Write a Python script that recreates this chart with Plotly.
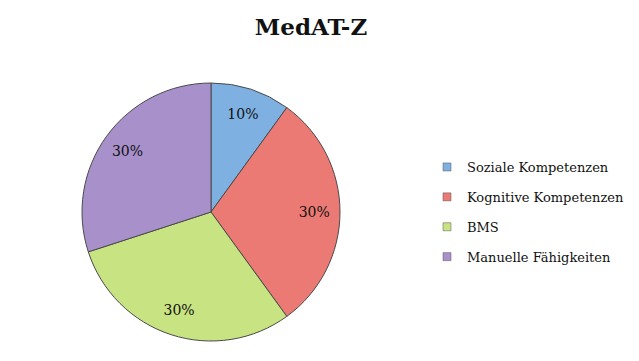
import plotly.graph_objects as go

labels = ["Soziale Kompetenzen", "Kognitive Kompetenzen", "BMS", "Manuelle Fähigkeiten"]
values = [10, 30, 30, 30]
colors = ["#7eb0e2", "#ec7a74", "#c8e382", "#a890cb"]

W, H = 639, 361
cx, cy, r = 211, 212, 129
dom = dict(x=[(cx - r) / W, (cx + r) / W], y=[(H - cy - r) / H, (H - cy + r) / H])

fig = go.Figure()
# filled pie
fig.add_trace(go.Pie(
    labels=labels, values=values, sort=False, direction="clockwise", rotation=0,
    marker=dict(colors=colors, line=dict(color="#4a4a4a", width=1)),
    textinfo="none", domain=dom, showlegend=False, hoverinfo="skip",
))
# transparent ring overlay carrying the percentage labels further out
fig.add_trace(go.Pie(
    labels=labels, values=values, sort=False, direction="clockwise", rotation=0,
    hole=0.6,
    marker=dict(colors=["rgba(0,0,0,0)"] * len(labels), line=dict(width=0)),
    texttemplate="%{percent:.0%}", textposition="inside",
    insidetextorientation="horizontal",
    textfont=dict(family="DejaVu Serif", size=14, color="#111111"),
    domain=dom, showlegend=False,
))
# legend entries
for lab, col in zip(labels, colors):
    fig.add_trace(go.Scatter(
        x=[None], y=[None], mode="markers", name=lab, legendgroup=lab,
        marker=dict(symbol="square", size=8, color=col, line=dict(color="#555555", width=0.5)),
    ))

fig.update_layout(
    width=W, height=H,
    margin=dict(l=0, r=0, t=0, b=0),
    paper_bgcolor="white",
    plot_bgcolor="white",
    xaxis=dict(visible=False), yaxis=dict(visible=False),
    title=dict(text="<b>MedAT-Z</b>", x=311 / W, xanchor="center", y=1 - 27 / H, yanchor="middle",
               font=dict(family="DejaVu Serif", size=23, color="#111111")),
    legend=dict(x=427 / W, xanchor="left", y=1 - 212 / H, yanchor="middle",
                font=dict(family="DejaVu Serif", size=13, color="#111111"),
                itemwidth=30, traceorder="grouped", tracegroupgap=10,
                bgcolor="rgba(0,0,0,0)"),
)

fig.write_html("out.html")
